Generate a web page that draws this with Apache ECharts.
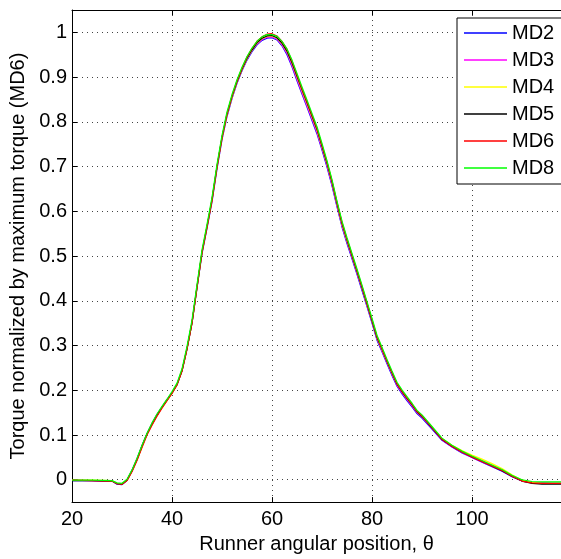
<!DOCTYPE html>
<html><head><meta charset="utf-8">
<script src="https://cdn.jsdelivr.net/npm/echarts@6/dist/echarts.min.js"></script>
<style>html,body{margin:0;padding:0;background:#fff}#c{width:561px;height:559px}</style>
</head><body><div id="c"></div>
<script>
const angles = [20,24,28,29,30,31,32,33,34,35,36,37,38,39,40,41,42,43,44,45,46,47,48,49,50,51,52,53,54,55,56,57,58,59,60,61,62,63,64,65,66,67,68,69,70,71,72,73,74,75,76,77,78,79,80,81,82,83,84,85,86,87,88,89,90,92,94,96,98,100,102,104,106,108,110,112,114,116,118];
const md2 = [-0.002,-0.002,-0.003,-0.010,-0.011,-0.001,0.020,0.046,0.076,0.103,0.125,0.145,0.162,0.178,0.194,0.212,0.243,0.292,0.350,0.428,0.505,0.562,0.621,0.695,0.760,0.812,0.852,0.886,0.914,0.938,0.957,0.972,0.982,0.987,0.988,0.983,0.970,0.950,0.923,0.892,0.862,0.833,0.803,0.773,0.737,0.699,0.657,0.610,0.565,0.528,0.494,0.459,0.423,0.387,0.350,0.312,0.286,0.259,0.233,0.209,0.192,0.177,0.163,0.148,0.138,0.113,0.088,0.073,0.060,0.050,0.039,0.029,0.019,0.007,-0.003,-0.006,-0.007,-0.008,-0.008];
const md3 = [-0.001,-0.002,-0.003,-0.009,-0.010,0.000,0.021,0.047,0.076,0.103,0.126,0.146,0.163,0.179,0.195,0.213,0.244,0.293,0.351,0.430,0.507,0.564,0.623,0.697,0.762,0.814,0.854,0.888,0.916,0.940,0.959,0.974,0.984,0.989,0.990,0.985,0.972,0.953,0.926,0.895,0.865,0.836,0.806,0.776,0.740,0.702,0.660,0.613,0.568,0.531,0.497,0.462,0.427,0.390,0.353,0.315,0.288,0.262,0.236,0.211,0.194,0.179,0.165,0.150,0.140,0.115,0.089,0.074,0.061,0.050,0.040,0.030,0.020,0.008,-0.002,-0.006,-0.007,-0.008,-0.008];
const md4 = [-0.001,-0.001,-0.002,-0.008,-0.009,-0.001,0.019,0.044,0.073,0.101,0.123,0.143,0.161,0.177,0.193,0.212,0.243,0.292,0.350,0.429,0.507,0.564,0.624,0.698,0.763,0.815,0.855,0.889,0.917,0.941,0.960,0.976,0.986,0.991,0.992,0.987,0.975,0.957,0.931,0.900,0.870,0.841,0.811,0.781,0.744,0.706,0.664,0.616,0.571,0.534,0.500,0.465,0.429,0.392,0.355,0.317,0.291,0.264,0.238,0.214,0.197,0.182,0.168,0.152,0.142,0.117,0.092,0.077,0.065,0.055,0.046,0.036,0.025,0.011,-0.001,-0.006,-0.008,-0.008,-0.008];
const md5 = [-0.002,-0.002,-0.003,-0.009,-0.010,-0.001,0.020,0.045,0.075,0.102,0.124,0.144,0.162,0.178,0.194,0.213,0.244,0.293,0.351,0.431,0.509,0.566,0.626,0.700,0.765,0.817,0.857,0.890,0.918,0.942,0.961,0.977,0.987,0.992,0.993,0.988,0.976,0.958,0.932,0.902,0.872,0.843,0.813,0.783,0.746,0.708,0.666,0.618,0.573,0.536,0.501,0.466,0.430,0.393,0.356,0.318,0.292,0.265,0.239,0.214,0.197,0.182,0.168,0.152,0.142,0.116,0.090,0.075,0.062,0.051,0.041,0.031,0.020,0.008,-0.003,-0.008,-0.010,-0.010,-0.010];
const md6 = [-0.001,-0.002,-0.003,-0.009,-0.010,-0.002,0.018,0.043,0.072,0.100,0.122,0.142,0.160,0.177,0.193,0.212,0.243,0.292,0.350,0.430,0.508,0.565,0.625,0.700,0.765,0.818,0.858,0.892,0.920,0.945,0.964,0.980,0.990,0.996,0.997,0.992,0.980,0.962,0.936,0.905,0.874,0.845,0.815,0.785,0.748,0.710,0.668,0.620,0.575,0.538,0.503,0.468,0.432,0.395,0.358,0.320,0.293,0.266,0.240,0.215,0.198,0.183,0.169,0.153,0.143,0.117,0.091,0.075,0.062,0.051,0.041,0.031,0.021,0.008,-0.003,-0.007,-0.008,-0.008,-0.008];
const md8 = [-0.001,-0.001,-0.002,-0.007,-0.008,0.001,0.022,0.048,0.077,0.104,0.127,0.147,0.164,0.180,0.197,0.216,0.248,0.298,0.357,0.436,0.514,0.571,0.631,0.705,0.770,0.822,0.861,0.894,0.922,0.946,0.965,0.980,0.990,0.995,0.995,0.991,0.980,0.963,0.938,0.908,0.878,0.849,0.819,0.789,0.752,0.713,0.671,0.623,0.578,0.541,0.506,0.471,0.435,0.398,0.361,0.323,0.296,0.269,0.243,0.218,0.201,0.186,0.171,0.155,0.145,0.119,0.093,0.077,0.064,0.053,0.043,0.033,0.023,0.010,0.000,-0.004,-0.005,-0.005,-0.005];
const seriesNames = ['MD2','MD3','MD4','MD5','MD6','MD8'];
const seriesValues = [md2, md3, md4, md5, md6, md8];
const xTicks = [20,40,60,80,100];
const yTicks = [0,0.1,0.2,0.3,0.4,0.5,0.6,0.7,0.8,0.9,1];
const xTitle = 'Runner angular position, \u03b8';
const yTitle = 'Torque normalized by maximum torque (MD6)';

const colors = ['#0000ff','#ff00ff','#ffff00','#000000','#ff0000','#00ff00'];
const FONT = "'Liberation Sans', Arial, sans-serif";
const chart = echarts.init(document.getElementById('c'), null, {renderer: 'canvas'});
const gridLine = {show: true, lineStyle: {color: '#444', width: 1, type: [1, 4]}};
chart.setOption({
  animation: false,
  backgroundColor: '#fff',
  textStyle: {fontFamily: FONT},
  grid: {left: 72, top: 10, right: 0, bottom: 51, containLabel: false},
  legend: {
    show: true, type: 'plain',
    orient: 'vertical', left: 457, top: 18,
    padding: [5, 30, 6, 7],
    icon: 'rect',
    itemWidth: 43, itemHeight: 1.3, itemGap: 7,
    backgroundColor: '#fff', borderColor: '#000', borderWidth: 1, borderRadius: 0,
    textStyle: {fontFamily: FONT, fontSize: 20, color: '#000', lineHeight: 20},
    data: seriesNames
  },
  xAxis: [{
    type: 'value', min: 20, max: 117.8, position: 'bottom',
    name: xTitle, nameLocation: 'middle', nameGap: 27,
    nameTextStyle: {fontFamily: FONT, fontSize: 20, color: '#000'},
    axisLine: {show: true, onZero: false, lineStyle: {color: '#000', width: 1}},
    axisTick: {show: true, inside: true, length: 5, lineStyle: {color: '#000'}, customValues: xTicks},
    axisLabel: {show: true, color: '#000', fontSize: 20, fontFamily: FONT, margin: 7, customValues: xTicks},
    splitLine: gridLine
  }, {
    type: 'value', min: 20, max: 117.8, position: 'top',
    axisLine: {show: true, onZero: false, lineStyle: {color: '#000', width: 1}},
    axisTick: {show: true, inside: true, length: 5, lineStyle: {color: '#000'}, customValues: xTicks},
    axisLabel: {show: false},
    splitLine: {show: false}
  }],
  yAxis: {
    type: 'value', min: -0.05, max: 1.05,
    name: yTitle, nameLocation: 'middle', nameGap: 42,
    nameTextStyle: {fontFamily: FONT, fontSize: 20, color: '#000'},
    axisLine: {show: true, onZero: false, lineStyle: {color: '#000', width: 1}},
    axisTick: {show: true, inside: true, length: 5, lineStyle: {color: '#000'}, customValues: yTicks},
    axisLabel: {show: true, color: '#000', fontSize: 20, fontFamily: FONT, margin: 5, customValues: yTicks},
    splitLine: gridLine
  },
  series: seriesNames.map((n, i) => ({
    name: n, type: 'line', xAxisIndex: 0, yAxisIndex: 0,
    data: angles.map((a, j) => [a, seriesValues[i][j]]),
    symbol: 'none', showSymbol: false,
    color: colors[i],
    lineStyle: {color: colors[i], width: 1.2},
    itemStyle: {color: colors[i]},
    z: 2 + i
  }))
});
</script></body></html>
